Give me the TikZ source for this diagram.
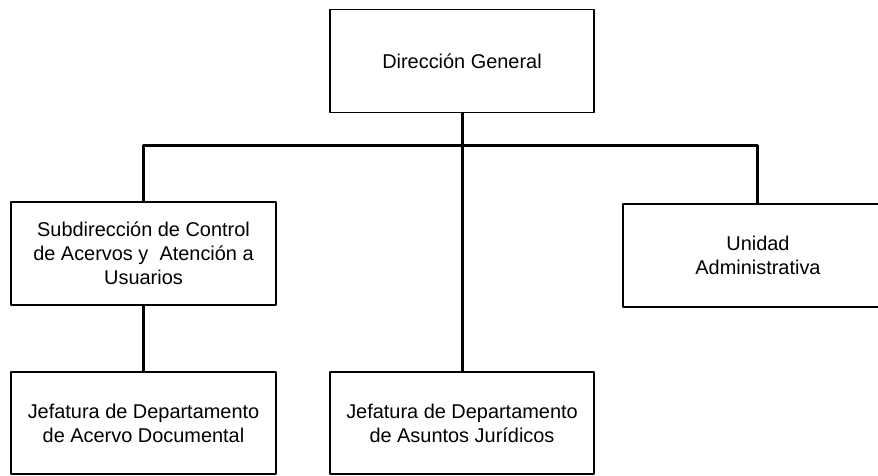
\documentclass[tikz,border=0pt]{standalone}
\usepackage{fontspec}
\setmainfont{Liberation Sans}
\begin{document}
\begin{tikzpicture}[line join=bevel,
  unit/.style={draw=black,line width=1.4bp,inner sep=0bp,align=center,
    font=\fontsize{20}{24}\selectfont,minimum height=103bp},
  link/.style={black,line width=3bp}]
%%
\clip (0bp,0bp) rectangle (878bp,476bp);
\node (node_0) at (462bp,415bp) [unit,minimum width=264bp] {Dirección General};
  \node (node_1) at (143.5bp,222.5bp) [unit,minimum width=265bp] {Subdirección de Control\\de Acervos y\ \ Atención a\\Usuarios};
  \node (node_2) at (758bp,220.5bp) [unit,minimum width=270bp] {Unidad\\Administrativa};
  \node (node_3) at (143.5bp,53bp) [unit,minimum width=265bp,minimum height=102bp] {Jefatura de Departamento\\de Acervo Documental};
  \node (node_4) at (462bp,53bp) [unit,minimum width=264bp,minimum height=102bp] {Jefatura de Departamento\\de Asuntos Jurídicos};
  \coordinate (node_bar) at (462bp,330bp);
  \coordinate (node_2top) at (757bp,272bp);
  \draw [link] (node_0) -- (node_4);
  \draw [link] (node_1) |- (node_bar) -| (node_2top);
  \draw [link] (node_1) -- (node_3);
%
\end{tikzpicture}
\end{document}
